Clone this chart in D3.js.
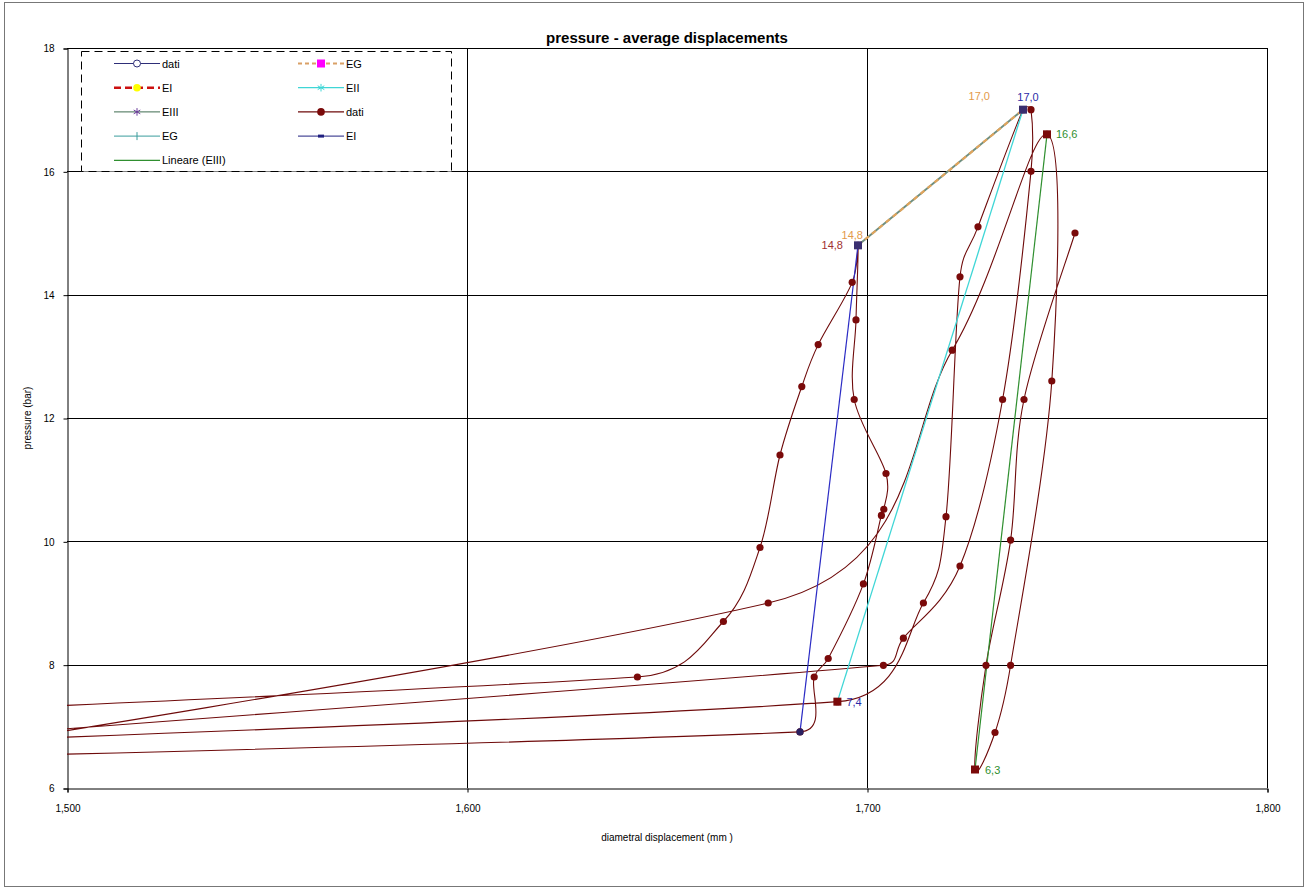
<!DOCTYPE html>
<html>
<head>
<meta charset="utf-8">
<script src="https://cdn.jsdelivr.net/npm/d3@7"></script>
<style>
body { margin: 0; background: #fff; }
text { font-family: Arial, "Liberation Sans", sans-serif; }
</style>
</head>
<body>
<div id="chart"></div>
<script>
// values: diametral displacement (mm) and pressure (bar)
// the points at 1000 are the excursions that run off the left side of the plot
var datiX = [1000, 1683.25, 1686.8, 1690.3, 1699.1, 1703.6, 1704.2, 1704.75, 1696.8, 1697.25, 1697.75,
             1696.3, 1687.8, 1683.7, 1678.25, 1673.25, 1664.1, 1642.6, 1000,
             1000, 1692.6, 1714.1, 1719.75, 1723.25, 1727.75, 1739,
             1741, 1741, 1733.9, 1723.25, 1709.1, 1704.1, 1000,
             1000, 1675.3, 1721.3, 1745,
             1746.2, 1735.9, 1732, 1727,
             1729.75, 1735.9, 1739.25, 1752];
var datiP = [5.81, 6.91, 7.80, 8.10, 9.31, 10.42, 10.52, 11.10, 12.30, 13.59, 14.80,
             14.20, 13.19, 12.51, 11.40, 9.90, 8.70, 7.80, 5.97,
             5.77, 7.40, 9.00, 10.40, 14.29, 15.10, 17.0,
             17.0, 16.0, 12.30, 9.60, 8.43, 7.99, 4.3,
             2.3, 9.00, 13.10, 16.6,
             12.60, 7.99, 6.90, 6.30,
             7.99, 10.02, 12.30, 15.0];

var egX = [1697.75, 1739], egP = [14.8, 17.0];
var eiX = [1683.25, 1697.75], eiP = [6.91, 14.8];
var eiiX = [1692.6, 1739], eiiP = [7.4, 17.0];
var eiiiX = [1727, 1745], eiiiP = [6.3, 16.6];

var xTicks = [1500, 1600, 1700, 1800];
var yTicks = [6, 8, 10, 12, 14, 16, 18];

var legendNames = ["dati", "EG", "EI", "EII", "EIII", "dati", "EG", "EI", "Lineare (EIII)"];

var W = 1308, H = 890;
var plot = { left: 67, top: 48, right: 1267, bottom: 788 };

var svg = d3.select('#chart').append('svg')
    .attr('width', W)
    .attr('height', H);

svg.append('rect')
    .attr('x', 4.5).attr('y', 2.5)
    .attr('width', W - 9).attr('height', H - 6)
    .attr('fill', '#fff').attr('stroke', '#777');

var x = d3.scaleLinear().domain([1500, 1800]).range([plot.left, plot.right]);
var y = d3.scaleLinear().domain([6, 18]).range([plot.bottom, plot.top]);

svg.append('defs').append('clipPath').attr('id', 'plotclip')
    .append('rect')
    .attr('x', plot.left).attr('y', plot.top)
    .attr('width', plot.right - plot.left).attr('height', plot.bottom - plot.top);

// gridlines
var grid = svg.append('g').attr('stroke', '#000').attr('stroke-width', 1);
grid.selectAll('.gx').data(xTicks.slice(1)).enter().append('line')
    .attr('x1', function(d) { return Math.round(x(d)) + 0.5; })
    .attr('x2', function(d) { return Math.round(x(d)) + 0.5; })
    .attr('y1', plot.top).attr('y2', plot.bottom);
grid.selectAll('.gy').data(yTicks.slice(1)).enter().append('line')
    .attr('y1', function(d) { return Math.round(y(d)) + 0.5; })
    .attr('y2', function(d) { return Math.round(y(d)) + 0.5; })
    .attr('x1', plot.left).attr('x2', plot.right);

// axes
var xAxis = svg.append('g')
    .attr('transform', 'translate(0.5,' + (plot.bottom + 0.5) + ')')
    .call(d3.axisBottom(x).tickValues(xTicks).tickFormat(d3.format(',')).tickSizeOuter(0).tickSize(4).tickPadding(12));
var yAxis = svg.append('g')
    .attr('transform', 'translate(' + (plot.left + 0.5) + ',0.5)')
    .call(d3.axisLeft(y).tickValues(yTicks).tickSizeOuter(0).tickSize(4).tickPadding(9));
[xAxis, yAxis].forEach(function(a) {
    a.selectAll('path, line').attr('stroke', '#000');
    a.selectAll('text').attr('font-size', 10).attr('fill', '#000')
        .attr('font-family', 'Arial, "Liberation Sans", sans-serif');
});

svg.append('text')
    .attr('x', (plot.left + plot.right) / 2).attr('y', 43)
    .attr('text-anchor', 'middle').attr('font-size', 15).attr('font-weight', 'bold')
    .text('pressure - average displacements');
svg.append('text')
    .attr('x', (plot.left + plot.right) / 2).attr('y', 841)
    .attr('text-anchor', 'middle').attr('font-size', 10)
    .text('diametral displacement (mm )');
svg.append('text')
    .attr('transform', 'translate(31,' + (plot.top + plot.bottom) / 2 + ') rotate(-90)')
    .attr('text-anchor', 'middle').attr('font-size', 10)
    .text('pressure (bar)');

var body = svg.append('g').attr('clip-path', 'url(#plotclip)');

function pairs(xs, ps) { return xs.map(function(d, i) { return [d, ps[i]]; }); }
var dati = pairs(datiX, datiP);

// spreadsheet-like smoothed line: bezier with control points along
// (next - prev), length (next - prev)/6, but never more than half the segment
function smoothed(data) {
    var pts = data.map(function(d) { return [x(d[0]), y(d[1])]; });
    var n = pts.length, path = d3.path();
    function ctrl(prev, cur, next, seg, sign) {
        var tx = next[0] - prev[0], ty = next[1] - prev[1];
        var len = Math.sqrt(tx * tx + ty * ty) || 1;
        var m = Math.min(len / 6, 0.5 * seg);
        return [cur[0] + sign * tx / len * m, cur[1] + sign * ty / len * m];
    }
    path.moveTo(pts[0][0], pts[0][1]);
    for (var i = 0; i < n - 1; i++) {
        var p0 = pts[i - 1] || pts[i], p1 = pts[i], p2 = pts[i + 1], p3 = pts[i + 2] || pts[i + 1];
        var seg = Math.hypot(p2[0] - p1[0], p2[1] - p1[1]);
        var c1 = ctrl(p0, p1, p2, seg, 1), c2 = ctrl(p1, p2, p3, seg, -1);
        path.bezierCurveTo(c1[0], c1[1], c2[0], c2[1], p2[0], p2[1]);
    }
    return path.toString();
}

var straight = d3.line()
    .x(function(d) { return x(d[0]); })
    .y(function(d) { return y(d[1]); });

body.append('path')
    .attr('d', smoothed(dati)).attr('fill', 'none')
    .attr('stroke', '#6e0a0a').attr('stroke-width', 1.1);

body.append('path').datum(pairs(eiX, eiP))
    .attr('d', straight).attr('fill', 'none').attr('stroke', '#2b2bc4').attr('stroke-width', 1.2);
body.append('path').datum(pairs(eiiX, eiiP))
    .attr('d', straight).attr('fill', 'none').attr('stroke', '#3fd6d6').attr('stroke-width', 1.3);
body.append('path').datum(pairs(eiiiX, eiiiP))
    .attr('d', straight).attr('fill', 'none').attr('stroke', '#2f8f2f').attr('stroke-width', 1.2);
body.append('path').datum(pairs(egX, egP))
    .attr('d', straight).attr('fill', 'none').attr('stroke', '#6f8f80').attr('stroke-width', 2);
body.append('path').datum(pairs(egX, egP))
    .attr('d', straight).attr('fill', 'none').attr('stroke', '#e0a45c').attr('stroke-width', 2.2)
    .attr('stroke-dasharray', '5,4');

// dati markers
body.selectAll('.dot').data(dati.filter(function(d) { return d[0] >= 1500; }))
    .enter().append('circle')
    .attr('cx', function(d) { return x(d[0]); })
    .attr('cy', function(d) { return y(d[1]); })
    .attr('r', 3.6)
    .attr('fill', '#7a0a0a');

// end markers of the secant series
function squares(xs, ps, col) {
    body.selectAll(null).data(pairs(xs, ps)).enter().append('rect')
        .attr('x', function(d) { return x(d[0]) - 4; })
        .attr('y', function(d) { return y(d[1]) - 4; })
        .attr('width', 8).attr('height', 8)
        .attr('fill', col);
}
squares([eiiX[0]], [eiiP[0]], '#7a0a0a');
squares(eiiiX, eiiiP, '#7a0a0a');
squares(egX, egP, '#3a2f70');
body.append('circle')
    .attr('cx', x(eiX[0])).attr('cy', y(eiP[0])).attr('r', 3.6).attr('fill', '#2a2060');

// data labels
var fmt = function(v) { return d3.format('.1f')(v).replace('.', ','); };
function label(px, pv, dx, dy, anchor, col) {
    svg.append('text')
        .attr('x', x(px) + dx).attr('y', y(pv) + dy)
        .attr('text-anchor', anchor).attr('font-size', 11).attr('fill', col)
        .text(fmt(pv));
}
label(egX[0], egP[0], 5, -6, 'end', '#e39a4a');
label(eiX[1], eiP[1], -15, 4, 'end', '#a03030');
label(egX[1], egP[1], -33, -10, 'end', '#e39a4a');
label(eiiX[1], eiiP[1], 5, -9, 'middle', '#2a2aa8');
label(eiiX[0], eiiP[0], 9, 4, 'start', '#2a2aa8');
label(eiiiX[1], eiiiP[1], 9, 4, 'start', '#2f8f2f');
label(eiiiX[0], eiiiP[0], 10, 4, 'start', '#2f8f2f');

// legend
var leg = svg.append('g');
leg.append('rect')
    .attr('x', 81.5).attr('y', 51.5).attr('width', 370).attr('height', 120)
    .attr('fill', '#fff').attr('stroke', '#000').attr('stroke-dasharray', '8,5');

var legStyle = [
    { c: '#2e2e78', w: 1, dash: null, m: 'ring', mc: '#2e2e78' },
    { c: '#d9a066', w: 2, dash: '4,3', m: 'square', mc: '#ff00ff' },
    { c: '#cc1010', w: 2.5, dash: '7,4', m: 'dot', mc: '#ffff00' },
    { c: '#3fd6d6', w: 1.2, dash: null, m: 'star', mc: '#3fd6d6' },
    { c: '#3d6b4f', w: 1, dash: null, m: 'star', mc: '#6a3a9a' },
    { c: '#6e0a0a', w: 1.2, dash: null, m: 'dot', mc: '#7a0a0a' },
    { c: '#3a9c9c', w: 1, dash: null, m: 'bar', mc: '#3a9c9c' },
    { c: '#202080', w: 1, dash: null, m: 'dash', mc: '#202080' },
    { c: '#2f8f2f', w: 1.2, dash: null, m: null, mc: null }
];

legendNames.forEach(function(name, i) {
    var col = i % 2, row = Math.floor(i / 2);
    var x0 = col === 0 ? 114 : 298, yy = 63.5 + row * 24.2;
    var st = legStyle[i];
    var g = leg.append('g');
    g.append('line').attr('x1', x0).attr('x2', x0 + 46).attr('y1', yy).attr('y2', yy)
        .attr('stroke', st.c).attr('stroke-width', st.w)
        .attr('stroke-dasharray', st.dash);
    var mx = x0 + 23;
    if (st.m === 'ring') {
        g.append('circle').attr('cx', mx).attr('cy', yy).attr('r', 3.5)
            .attr('fill', '#fff').attr('stroke', st.mc);
    } else if (st.m === 'square') {
        g.append('rect').attr('x', mx - 4).attr('y', yy - 4).attr('width', 8).attr('height', 8).attr('fill', st.mc);
    } else if (st.m === 'dot') {
        g.append('circle').attr('cx', mx).attr('cy', yy).attr('r', 3.8).attr('fill', st.mc);
    } else if (st.m === 'star') {
        g.append('path').attr('transform', 'translate(' + mx + ',' + yy + ')')
            .attr('d', d3.symbol(d3.symbolAsterisk, 40)).attr('fill', 'none').attr('stroke', st.mc);
    } else if (st.m === 'bar') {
        g.append('line').attr('x1', mx).attr('x2', mx).attr('y1', yy - 4).attr('y2', yy + 4).attr('stroke', st.mc);
    } else if (st.m === 'dash') {
        g.append('line').attr('x1', mx - 3).attr('x2', mx + 3).attr('y1', yy).attr('y2', yy)
            .attr('stroke', st.mc).attr('stroke-width', 3);
    }
    g.append('text').attr('x', x0 + 48).attr('y', yy + 4).attr('font-size', 11).text(name);
});
</script>
</body>
</html>
